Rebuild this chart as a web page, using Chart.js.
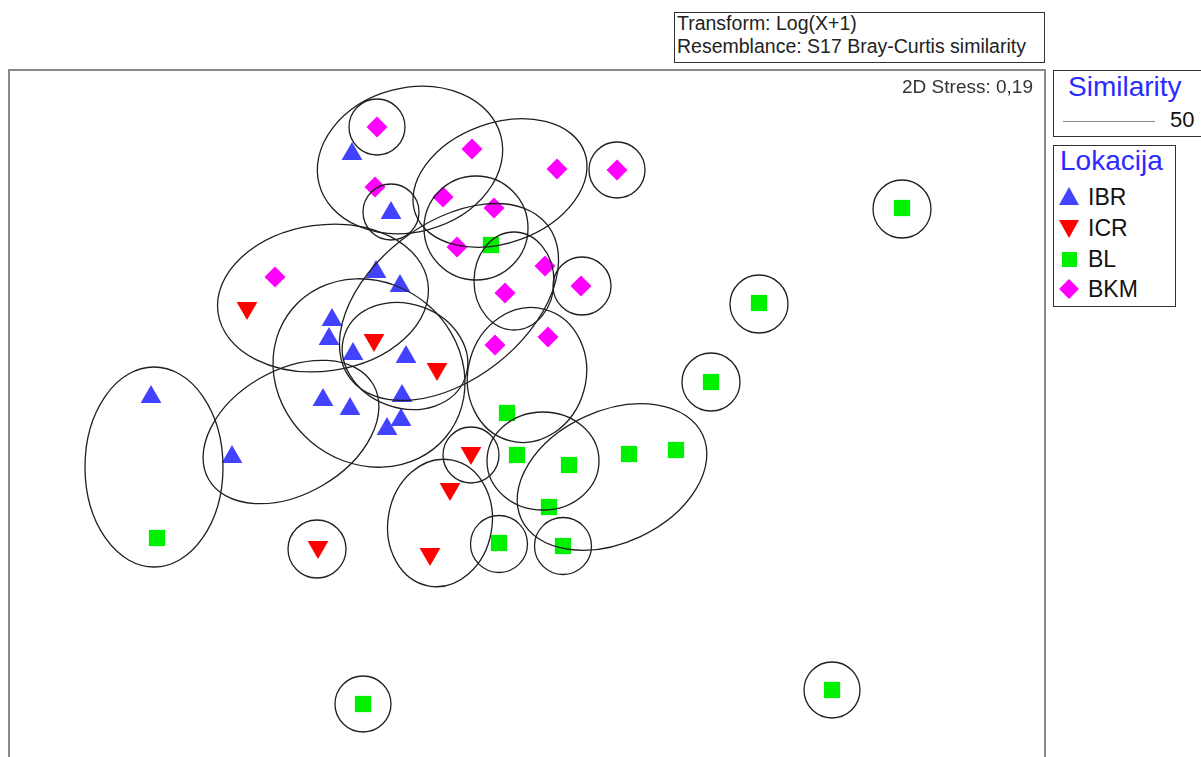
<!DOCTYPE html>
<html>
<head>
<meta charset="utf-8">
<script src="https://cdn.jsdelivr.net/npm/chart.js@4.4.1/dist/chart.umd.min.js"></script>
<style>
  html, body { margin: 0; padding: 0; background: #fff; overflow: hidden; }
  #wrap { position: relative; width: 1201px; height: 757px; overflow: hidden; font-family: "Liberation Sans", Arial, sans-serif; }
  #mds { position: absolute; left: 0; top: 0; }
  .txt { position: absolute; white-space: nowrap; line-height: 1; }
  .box { position: absolute; border: 1px solid #333; box-sizing: border-box; background: #fff; }
  .mk { position: absolute; }
</style>
</head>
<body>
<div id="wrap">
  <canvas id="mds" width="1201" height="800"></canvas>

  <div class="box" style="left:674px; top:12px; width:371px; height:51px;"></div>
  <div class="txt" style="left:677px; top:14px; font-size:19.5px; color:#222;">Transform: Log(X+1)</div>
  <div class="txt" style="left:677px; top:37px; font-size:19.5px; color:#222;">Resemblance: S17 Bray-Curtis similarity</div>

  <div class="txt" style="right:168px; top:77px; font-size:19px; color:#333;">2D Stress: 0,19</div>

  <div class="box" style="left:1053px; top:70px; width:150px; height:67px;"></div>
  <div class="txt" style="left:1068px; top:73px; font-size:28px; color:#2b2bff;">Similarity</div>
  <div style="position:absolute; left:1063px; top:121px; width:92px; height:0; border-top:1.5px solid #888;"></div>
  <div class="txt" style="left:1170px; top:109px; font-size:22px; color:#111;">50</div>

  <div class="box" style="left:1053px; top:145px; width:123px; height:162px;"></div>
  <div class="txt" style="left:1060px; top:147px; font-size:28px; color:#2b2bff;">Lokacija</div>
  <div id="legendItems"></div>
</div>

<script>
// group names and colours
const groups = ['IBR', 'ICR', 'BL', 'BKM'];
const groupColors = ['#4343ff', '#ff0000', '#00f000', '#ff00ff'];

// nMDS coordinates
const ibrX = [-1.77, -1.38, -1.53, -1.29, -1.97, -2.00, -1.76, -1.23, -2.06, -1.79, -1.27, -1.28, -1.42, -3.78, -2.97];
const ibrY = [2.46, 1.87, 1.28, 1.14, 0.80, 0.61, 0.46, 0.43, 0.00, -0.09, 0.04, -0.20, -0.29, 0.03, -0.57];

const icrX = [-2.82, -1.55, -0.92, -0.58, -0.79, -2.11, -0.99];
const icrY = [0.92, 0.60, 0.31, -0.53, -0.89, -1.47, -1.54];

const blX = [-0.38, 3.73, 2.30, 1.82, -0.22, -0.12, 0.40, 1.00, 1.47, 0.20, -0.30, 0.34, -3.72, -1.66, 3.03];
const blY = [1.55, 1.92, 0.97, 0.18, -0.13, -0.55, -0.65, -0.54, -0.50, -1.07, -1.43, -1.46, -1.38, -3.04, -2.90];

const bkmX = [-1.52, -0.57, 0.28, 0.88, -1.54, -0.86, -0.35, -0.72, 0.16, -0.24, 0.52, -2.54, -0.34, 0.19];
const bkmY = [2.73, 2.51, 2.31, 2.30, 2.13, 2.03, 1.92, 1.53, 1.34, 1.07, 1.14, 1.23, 0.55, 0.63];

// 50% similarity contours (centre, semi axes, angle in degrees)
const ellX     = [-1.52, -1.19, -0.29, 0.88, -1.38, -0.53, -0.80, -1.60, -2.38, -1.24, -0.02, -2.06, -3.75, -2.12, -0.89, -0.58, 0.14, 0.83, -0.30, 0.34, 3.73, 2.30, 1.82, -1.66, 3.03, 0.53, -0.15];
const ellY     = [2.73, 2.40, 2.17, 2.30, 1.88, 1.72, 0.98, 0.27, -0.32, 0.44, 0.25, 1.02, -0.67, -1.49, -1.23, -0.55, -0.61, -0.77, -1.44, -1.46, 1.91, 0.96, 0.18, -3.04, -2.90, 1.14, 1.19];
const ellA     = [0.28, 0.94, 0.90, 0.28, 0.28, 0.52, 1.25, 1.00, 0.95, 0.64, 0.68, 1.06, 0.69, 0.29, 0.64, 0.28, 0.56, 1.00, 0.285, 0.285, 0.29, 0.29, 0.29, 0.28, 0.28, 0.29, 0.40];
const ellB     = [0.28, 0.72, 0.60, 0.28, 0.28, 0.52, 0.78, 0.90, 0.62, 0.52, 0.59, 0.73, 1.00, 0.29, 0.52, 0.28, 0.49, 0.66, 0.285, 0.285, 0.29, 0.29, 0.29, 0.28, 0.28, 0.29, 0.49];
const ellAngle = [0, 15, 20, 0, 0, 0, 38, -40, 30, -20, 75, 8, 0, 0, 80, 0, 0, 25, 0, 0, 0, 0, 0, 0, 0, 0, 0];

const xRange = [-5.2, 5.16];
const yRange = [-3.8, 3.3];

function toPoints(xs, ys) {
  return xs.map(function(x, i) { return { x: x, y: ys[i] }; });
}

const ellipsePlugin = {
  id: 'simEllipses',
  afterDatasetsDraw: function(chart) {
    const ctx = chart.ctx;
    const xs = chart.scales.x, ys = chart.scales.y;
    ctx.save();
    ctx.strokeStyle = '#1f1f1f';
    ctx.lineWidth = 1.3;
    for (let i = 0; i < ellX.length; i++) {
      const cx = xs.getPixelForValue(ellX[i]);
      const cy = ys.getPixelForValue(ellY[i]);
      const rx = xs.getPixelForValue(ellX[i] + ellA[i]) - cx;
      const ry = cy - ys.getPixelForValue(ellY[i] + ellB[i]);
      ctx.beginPath();
      ctx.ellipse(cx, cy, rx, ry, -ellAngle[i] * Math.PI / 180, 0, Math.PI * 2);
      ctx.stroke();
    }
    ctx.restore();
  }
};

const framePlugin = {
  id: 'plotFrame',
  afterDraw: function(chart) {
    const a = chart.chartArea;
    const ctx = chart.ctx;
    ctx.save();
    ctx.strokeStyle = '#8a8a8a';
    ctx.lineWidth = 2;
    ctx.strokeRect(a.left, a.top, a.right - a.left, a.bottom - a.top);
    ctx.restore();
  }
};

const data = {
  datasets: [
    { label: groups[0], data: toPoints(ibrX, ibrY), pointStyle: 'triangle', pointRadius: 12, pointRotation: 0,
      backgroundColor: groupColors[0], borderColor: groupColors[0], pointBorderWidth: 0 },
    { label: groups[1], data: toPoints(icrX, icrY), pointStyle: 'triangle', pointRadius: 12, pointRotation: 180,
      backgroundColor: groupColors[1], borderColor: groupColors[1], pointBorderWidth: 0 },
    { label: groups[2], data: toPoints(blX, blY), pointStyle: 'rect', pointRadius: 11.5,
      backgroundColor: groupColors[2], borderColor: groupColors[2], pointBorderWidth: 0 },
    { label: groups[3], data: toPoints(bkmX, bkmY), pointStyle: 'rectRot', pointRadius: 10.5,
      backgroundColor: groupColors[3], borderColor: groupColors[3], pointBorderWidth: 0 }
  ]
};

const config = {
  type: 'scatter',
  data: data,
  options: {
    responsive: false,
    animation: false,
    layout: { autoPadding: false, padding: { left: 9, top: 70, right: 156, bottom: 20 } },
    scales: {
      x: { type: 'linear', min: xRange[0], max: xRange[1], display: false },
      y: { type: 'linear', min: yRange[0], max: yRange[1], display: false }
    },
    plugins: {
      legend: { display: false },
      tooltip: { enabled: false }
    }
  },
  plugins: [ellipsePlugin, framePlugin]
};

var mdsChart = new Chart(document.getElementById('mds'), config);

// legend rows for Lokacija
const legendRowY = [197, 228, 259, 289];
const legendHtml = [];
const shapes = [
  'border-left:10.5px solid transparent;border-right:10.5px solid transparent;border-bottom:18px solid ' + groupColors[0] + ';width:0;height:0;',
  'border-left:10.5px solid transparent;border-right:10.5px solid transparent;border-top:18px solid ' + groupColors[1] + ';width:0;height:0;',
  'width:15px;height:15px;background:' + groupColors[2] + ';',
  'width:14px;height:14px;background:' + groupColors[3] + ';transform:rotate(45deg);'
];
const shapeOffsets = [[-10.5, -10], [-10.5, -8], [-7.5, -7.5], [-7, -7]];
groups.forEach(function(g, i) {
  const y = legendRowY[i];
  legendHtml.push('<div class="mk" style="left:' + (1069 + shapeOffsets[i][0]) + 'px;top:' + (y + shapeOffsets[i][1]) + 'px;' + shapes[i] + '"></div>');
  legendHtml.push('<div class="txt" style="left:1088px;top:' + (y - 11.5) + 'px;font-size:23px;color:#111;">' + g + '</div>');
});
document.getElementById('legendItems').innerHTML = legendHtml.join('');
</script>
</body>
</html>
